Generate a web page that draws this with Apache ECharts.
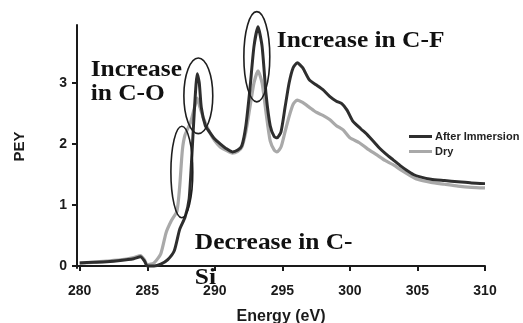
<!DOCTYPE html>
<html><head><meta charset="utf-8">
<script src="https://cdn.jsdelivr.net/npm/echarts@6/dist/echarts.min.js"></script>
<style>html,body{margin:0;padding:0;background:#fff}#c{width:523px;height:323px}</style>
</head><body><div id="c"></div>
<script>
// ---- data ----
const xTicks = [280, 285, 290, 295, 300, 305, 310];
const yTicks = [0, 1, 2, 3];
const seriesNames = ['After Immersion', 'Dry'];

const energyAfter = [280,281,282,283,284,284.5,284.8,285,285.5,286,286.5,287,287.4,287.8,288.1,288.3,288.5,288.7,288.85,289.0,289.3,289.6,290.0,290.4,290.8,291.3,291.7,292.0,292.3,292.6,292.9,293.2,293.5,293.8,294.1,294.4,294.6,294.9,295.2,295.5,295.8,296.1,296.5,297.0,297.5,298.0,298.5,299.0,299.4,299.8,300.2,300.8,301.3,301.8,302.2,302.7,303.2,303.7,304.2,304.7,305.2,306,307,308,309,310];
const valuesAfter = [0.05,0.06,0.07,0.09,0.12,0.15,0.08,0.0,0.0,0.03,0.1,0.25,0.6,0.8,1.1,1.8,2.6,3.15,3.0,2.6,2.3,2.2,2.08,2.0,1.93,1.87,1.9,1.97,2.3,2.9,3.6,3.92,3.6,2.8,2.3,2.12,2.1,2.2,2.6,3.0,3.25,3.33,3.25,3.05,2.97,2.89,2.78,2.7,2.66,2.55,2.38,2.25,2.15,2.03,1.93,1.83,1.74,1.65,1.57,1.5,1.46,1.42,1.40,1.38,1.36,1.35];

const energyDry = [280,281,282,283,284,284.5,284.8,285,285.5,286,286.4,286.8,287.2,287.4,287.6,287.8,288.2,288.5,288.7,288.9,289.2,289.6,290.0,290.4,290.8,291.3,291.7,292.0,292.3,292.6,292.9,293.2,293.5,293.8,294.1,294.4,294.6,294.9,295.2,295.5,295.8,296.1,296.5,297.0,297.5,298.0,298.5,299.0,299.5,300.0,300.7,301.3,302.0,302.6,303.2,303.8,304.4,305.0,306,307,308,309,310];
const valuesDry = [0.05,0.06,0.08,0.1,0.14,0.17,0.1,0.02,0.05,0.2,0.55,0.75,0.9,1.3,1.9,2.15,2.35,2.6,2.75,2.6,2.4,2.2,2.05,1.95,1.9,1.85,1.88,1.95,2.2,2.6,3.0,3.2,3.0,2.5,2.05,1.9,1.87,1.95,2.2,2.45,2.65,2.72,2.68,2.6,2.52,2.47,2.4,2.3,2.23,2.1,2.02,1.92,1.82,1.73,1.66,1.57,1.49,1.42,1.37,1.34,1.31,1.29,1.28];

// ---- annotations (data coordinates) ----
const ellipses = [
  {E: 288.78, v: 2.79, rE: 1.07, rv: 0.62},
  {E: 293.11, v: 3.43, rE: 0.96, rv: 0.74},
  {E: 287.56, v: 1.54, rE: 0.81, rv: 0.75}
];
const labels = [
  {text: 'Increase', E: 280.81, v: 3.02},
  {text: 'in C-O', E: 280.81, v: 2.62},
  {text: 'Increase in C-F', E: 294.59, v: 3.49},
  {text: 'Decrease in C-', E: 288.52, v: 0.18},
  {text: 'Si', E: 288.52, v: -0.39}
];

const pairs = (xs, ys) => xs.map((x, i) => [x, ys[i]]);
const chart = echarts.init(document.getElementById('c'), null, {renderer: 'canvas'});
const axisFont = {fontFamily: 'Liberation Sans, Arial', fontWeight: 'bold', color: '#1a1a1a'};
chart.setOption({
  animation: false,
  backgroundColor: '#fff',
  grid: {left: 77, right: 38, top: 25, bottom: 55, containLabel: false, outerBoundsMode: 'none'},
  legend: {
    orient: 'vertical', left: 404, top: 126, itemGap: 4,
    icon: 'rect', itemWidth: 23, itemHeight: 3,
    data: seriesNames,
    textStyle: {fontFamily: 'Liberation Sans, Arial', fontWeight: 'bold', fontSize: 11, color: '#222', padding: [0,0,0,-2]}
  },
  xAxis: {
    type: 'value', min: 279.8, max: 310,
    name: 'Energy (eV)', nameLocation: 'middle', nameGap: 41,
    nameTextStyle: Object.assign({fontSize: 16}, axisFont),
    axisLine: {lineStyle: {color: '#1a1a1a', width: 2}},
    axisTick: {show: true, length: 5, customValues: xTicks, lineStyle: {color: '#1a1a1a', width: 2}},
    axisLabel: Object.assign({fontSize: 14, margin: 16, customValues: xTicks}, axisFont),
    splitLine: {show: false}
  },
  yAxis: {
    type: 'value', min: -0.033, max: 3.95,
    name: 'PEY', nameLocation: 'middle', nameGap: 50,
    nameTextStyle: Object.assign({fontSize: 15}, axisFont),
    axisLine: {show: true, lineStyle: {color: '#1a1a1a', width: 2}},
    axisTick: {show: true, length: 5, customValues: yTicks, lineStyle: {color: '#1a1a1a', width: 2}},
    axisLabel: Object.assign({fontSize: 14, margin: 10, customValues: yTicks}, axisFont),
    splitLine: {show: false}
  },
  series: [
    {name: 'Dry', type: 'line', data: pairs(energyDry, valuesDry), showSymbol: false, smooth: 0.2,
     color: '#a9a9a9', lineStyle: {width: 3.2, color: '#a9a9a9'}, z: 2},
    {name: 'After Immersion', type: 'line', data: pairs(energyAfter, valuesAfter), showSymbol: false, smooth: 0.2,
     color: '#2e2e2e', lineStyle: {width: 3, color: '#2e2e2e'}, z: 3}
  ]
});

const px = (E, v) => chart.convertToPixel({xAxisIndex: 0, yAxisIndex: 0}, [E, v]);
const graphics = [];
ellipses.forEach(e => {
  const c = px(e.E, e.v);
  const a = px(e.E + e.rE, e.v + e.rv);
  graphics.push({type: 'ellipse', silent: true, z: 10,
    shape: {cx: c[0], cy: c[1], rx: Math.abs(a[0] - c[0]), ry: Math.abs(a[1] - c[1])},
    style: {fill: null, stroke: '#1e1e1e', lineWidth: 1.6}});
});
labels.forEach(l => {
  const p = px(l.E, l.v);
  graphics.push({type: 'text', silent: true, z: 11, x: p[0], y: p[1], scaleX: 1.06,
    style: {text: l.text, font: 'bold 24px "Liberation Serif", "Times New Roman", serif', fill: '#111',
            textAlign: 'left', textVerticalAlign: 'bottom'}});
});
chart.setOption({graphic: graphics});
</script>
</body></html>
